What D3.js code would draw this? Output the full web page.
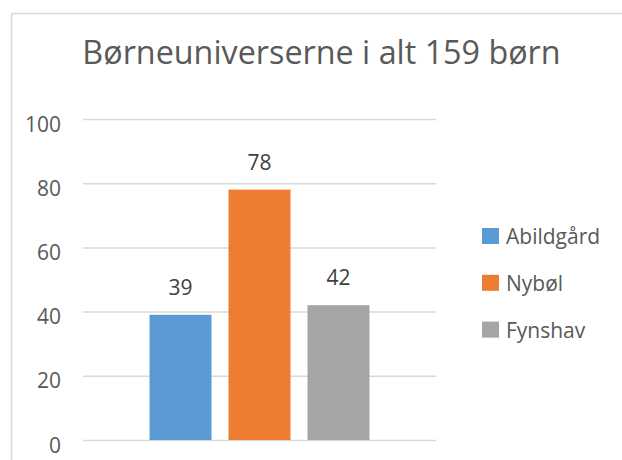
<!DOCTYPE html>
<html>
<head>
<meta charset="utf-8">
<script src="https://cdn.jsdelivr.net/npm/d3@7"></script>
<style>
  body { margin: 0; background: #fff; }
  text { font-family: "Open Sans", sans-serif; }
</style>
</head>
<body>
<script>
// data
var series = ['Abildgård', 'Nybøl', 'Fynshav']
var values = [39, 78, 42]
var colors = ['#5b9bd5', '#ed7d31', '#a5a5a5']
var yTicks = [0, 20, 40, 60, 80, 100]
var title = 'Børneuniverserne i alt 159 børn'

var width = 622
var height = 460

var svg = d3.select('body').append('svg').attr('width', width).attr('height', height)

// chart area border (only top and left visible in the crop)
svg.append('path')
    .attr('d', 'M11.5,' + height + 'V13.5H' + width)
    .attr('fill', 'none').attr('stroke', '#d9d9d9').attr('stroke-width', 1.5)

svg.append('text').attr('x', 321.5).attr('y', 63.5)
    .attr('text-anchor', 'middle').attr('font-size', 32.3).attr('fill', '#595959')
    .text(title)

var y = d3.scaleLinear().domain([0, 100]).range([440, 119])
var x = d3.scaleBand().domain(series).range([83, 436]).paddingInner(17 / 79).paddingOuter(0.842)

// gridlines + tick labels
var yAxis = d3.axisLeft(y).tickValues(yTicks).tickSize(-(436 - 83)).tickPadding(22)
var gy = svg.append('g').attr('transform', 'translate(83,0)').call(yAxis)
gy.select('.domain').remove()
gy.selectAll('.tick line').attr('stroke', '#d9d9d9').attr('stroke-width', 1.5)
gy.selectAll('.tick text').attr('font-size', 21).attr('fill', '#595959')
    .attr('font-family', '"Open Sans", sans-serif').attr('dy', 12)

// bars
svg.selectAll('rect.bar').data(values).enter()
    .append('rect').attr('class', 'bar')
    .attr('x', function (d, i) { return x(series[i]) })
    .attr('width', x.bandwidth())
    .attr('y', function (d) { return y(d) })
    .attr('height', function (d) { return y(0) - y(d) })
    .attr('fill', function (d, i) { return colors[i] })

// value labels
svg.selectAll('text.lbl').data(values).enter()
    .append('text').attr('class', 'lbl')
    .attr('x', function (d, i) { return x(series[i]) + x.bandwidth() / 2 })
    .attr('y', function (d) { return y(d) - 20 })
    .attr('text-anchor', 'middle').attr('font-size', 21).attr('fill', '#404040')
    .text(function (d) { return d })

// legend
var legend = svg.selectAll('g.leg').data(series).enter()
    .append('g').attr('class', 'leg')
    .attr('transform', function (d, i) { return 'translate(482,' + (228 + i * 46.8) + ')' })
legend.append('rect').attr('width', 17).attr('height', 16)
    .attr('fill', function (d, i) { return colors[i] })
legend.append('text').attr('x', 24).attr('y', 16)
    .attr('font-size', 21).attr('fill', '#595959')
    .text(function (d) { return d })
</script>
</body>
</html>
